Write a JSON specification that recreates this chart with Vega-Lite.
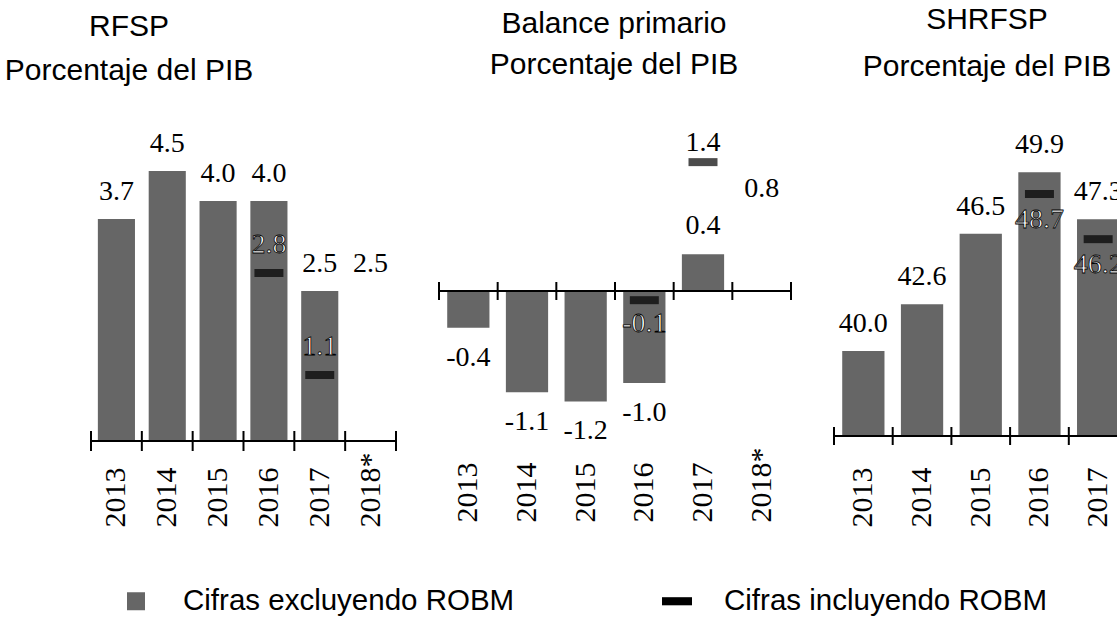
{
  "$schema": "https://vega.github.io/schema/vega-lite/v6.json",
  "background": "white",
  "padding": {"left": 4, "top": 5, "right": 0, "bottom": 0},
  "bounds": "flush",
  "spacing": 43,
  "config": {
    "locale": {"number": {"decimal": ".", "thousands": ",", "grouping": [3], "currency": ["$", ""], "minus": "-"}},
    "view": {"stroke": null},
    "title": {"font": "Liberation Sans", "fontSize": 30, "fontWeight": "normal", "color": "black", "subtitleFont": "Liberation Sans", "subtitleFontSize": 30, "subtitleColor": "black", "subtitlePadding": 14, "anchor": "middle", "frame": "group", "offset": 40},
    "axis": {"labelFont": "Liberation Serif", "labelFontSize": 30, "labelColor": "black", "domain": false, "ticks": false, "tickSize": 0, "grid": false, "labelAngle": 270, "labelAlign": "left", "labelBaseline": "middle", "labelOverlap": false, "labelFlush": false, "title": null},
    "text": {"font": "Liberation Serif", "fontSize": 28, "color": "black", "baseline": "alphabetic"},
    "legend": {"orient": "none", "legendX": 30, "legendY": 457, "direction": "horizontal", "labelFont": "Liberation Sans", "labelFontSize": 29.5, "labelColor": "black", "symbolSize": 900, "labelOffset": 32, "columnPadding": 147, "labelLimit": 600}
  },
  "datasets": {
    "rfsp": [
      {"year": "2013", "excl": 3.7},
      {"year": "2014", "excl": 4.5},
      {"year": "2015", "excl": 4.0},
      {"year": "2016", "excl": 4.0, "incl": 2.8},
      {"year": "2017", "excl": 2.5, "incl": 1.1},
      {"year": "2018*", "excl": 2.5}
    ],
    "bal": [
      {"year": "2013", "excl": -0.4},
      {"year": "2014", "excl": -1.1},
      {"year": "2015", "excl": -1.2},
      {"year": "2016", "excl": -1.0, "incl": -0.1},
      {"year": "2017", "excl": 0.4, "incl": 1.4},
      {"year": "2018*", "excl": 0.8}
    ],
    "shr": [
      {"year": "2013", "excl": 40.0},
      {"year": "2014", "excl": 42.6},
      {"year": "2015", "excl": 46.5},
      {"year": "2016", "excl": 49.9, "incl": 48.7},
      {"year": "2017", "excl": 47.3, "incl": 46.2}
    ]
  },
  "hconcat": [
    {
      "width": 305, "height": 312,
      "data": {"name": "rfsp"},
      "title": {"text": "RFSP", "subtitle": "Porcentaje del PIB", "dx": -114.5, "offset": 43, "subtitlePadding": 14},
      "layer": [
        {
          "transform": [{"filter": "datum.year != '2018*'"}],
          "mark": {"type": "bar", "width": {"band": 0.73}},
          "encoding": {
            "x": {"field": "year", "type": "ordinal", "sort": null, "scale": {"type": "band", "paddingInner": 0, "paddingOuter": 0}, "axis": {"labelPadding": 86}},
            "y": {"field": "excl", "type": "quantitative", "scale": {"domain": [0, 5.2], "nice": false, "zero": false}, "axis": null},
            "color": {"datum": "Cifras excluyendo ROBM", "scale": {"domain": ["Cifras excluyendo ROBM", "Cifras incluyendo ROBM"], "range": ["#666666", "#000000"]}, "legend": {"title": null, "encode": {"symbols": {"update": {"shape": {"signal": "datum.value === 'Cifras incluyendo ROBM' ? 'M-1,-0.27H1V0.27H-1Z' : 'M-0.6,-0.6H0.6V0.6H-0.6Z'"}, "fill": {"signal": "datum.value === 'Cifras incluyendo ROBM' ? '#000000' : '#c4c4c4'"}, "strokeWidth": {"value": 0}, "opacity": {"value": 1}}}}}}
          }
        },
        {
          "mark": {"type": "rule", "strokeWidth": 2, "color": "black"},
          "encoding": {"y": {"datum": 0, "type": "quantitative", "axis": null}}
        },
        {
          "mark": {"type": "rule", "strokeWidth": 2, "color": "black", "yOffset": -10, "y2Offset": 10},
          "encoding": {
            "x": {"field": "year", "type": "ordinal", "sort": null, "bandPosition": 0, "scale": {"type": "band", "paddingInner": 0, "paddingOuter": 0}},
            "y": {"datum": 0, "type": "quantitative", "axis": null},
            "y2": {"datum": 0}
          }
        },
        {
          "transform": [{"filter": "datum.year == '2018*'"}],
          "mark": {"type": "rule", "strokeWidth": 2, "color": "black", "yOffset": -10, "y2Offset": 10},
          "encoding": {
            "x": {"field": "year", "type": "ordinal", "sort": null, "bandPosition": 1, "scale": {"type": "band", "paddingInner": 0, "paddingOuter": 0}},
            "y": {"datum": 0, "type": "quantitative", "axis": null},
            "y2": {"datum": 0}
          }
        },
        {
          "transform": [{"filter": "isValid(datum.incl)"}],
          "mark": {"type": "tick", "thickness": 8, "size": 29},
          "encoding": {
            "x": {"field": "year", "type": "ordinal", "sort": null, "scale": {"type": "band", "paddingInner": 0, "paddingOuter": 0}},
            "y": {"field": "incl", "type": "quantitative", "axis": null},
            "color": {"datum": "Cifras incluyendo ROBM", "scale": {"domain": ["Cifras excluyendo ROBM", "Cifras incluyendo ROBM"], "range": ["#666666", "#000000"]}, "legend": {"title": null, "encode": {"symbols": {"update": {"shape": {"signal": "datum.value === 'Cifras incluyendo ROBM' ? 'M-1,-0.27H1V0.27H-1Z' : 'M-0.6,-0.6H0.6V0.6H-0.6Z'"}, "fill": {"signal": "datum.value === 'Cifras incluyendo ROBM' ? '#000000' : '#c4c4c4'"}, "strokeWidth": {"value": 0}, "opacity": {"value": 1}}}}}}
          }
        },
        {
          "mark": {"type": "text", "dy": -19},
          "encoding": {
            "x": {"field": "year", "type": "ordinal", "sort": null, "scale": {"type": "band", "paddingInner": 0, "paddingOuter": 0}},
            "y": {"field": "excl", "type": "quantitative", "axis": null},
            "text": {"field": "excl", "type": "quantitative", "format": ".1f"}
          }
        },
        {
          "transform": [{"filter": "isValid(datum.incl)"}],
          "mark": {"type": "text", "dy": -20, "fill": "white", "stroke": "black", "strokeWidth": 0.8},
          "encoding": {
            "x": {"field": "year", "type": "ordinal", "sort": null, "scale": {"type": "band", "paddingInner": 0, "paddingOuter": 0}},
            "y": {"field": "incl", "type": "quantitative", "axis": null},
            "text": {"field": "incl", "type": "quantitative", "format": ".1f"}
          }
        }
      ]
    },
    {
      "width": 352, "height": 312,
      "data": {"name": "bal"},
      "title": {"text": "Balance primario", "subtitle": "Porcentaje del PIB", "dx": -1, "offset": 49, "subtitlePadding": 11},
      "layer": [
        {
          "transform": [{"filter": "datum.year != '2018*'"}],
          "mark": {"type": "bar", "width": {"band": 0.72}},
          "encoding": {
            "x": {"field": "year", "type": "ordinal", "sort": null, "scale": {"type": "band", "paddingInner": 0, "paddingOuter": 0}, "axis": {"labelPadding": 81}},
            "y": {"field": "excl", "type": "quantitative", "scale": {"domain": [-1.63, 1.76], "nice": false, "zero": false}, "axis": null},
            "color": {"datum": "Cifras excluyendo ROBM", "scale": {"domain": ["Cifras excluyendo ROBM", "Cifras incluyendo ROBM"], "range": ["#666666", "#000000"]}, "legend": {"title": null, "encode": {"symbols": {"update": {"shape": {"signal": "datum.value === 'Cifras incluyendo ROBM' ? 'M-1,-0.27H1V0.27H-1Z' : 'M-0.6,-0.6H0.6V0.6H-0.6Z'"}, "fill": {"signal": "datum.value === 'Cifras incluyendo ROBM' ? '#000000' : '#c4c4c4'"}, "strokeWidth": {"value": 0}, "opacity": {"value": 1}}}}}}
          }
        },
        {
          "mark": {"type": "rule", "strokeWidth": 2, "color": "black"},
          "encoding": {"y": {"datum": 0, "type": "quantitative", "axis": null}}
        },
        {
          "mark": {"type": "rule", "strokeWidth": 2, "color": "black", "yOffset": -9, "y2Offset": 9},
          "encoding": {
            "x": {"field": "year", "type": "ordinal", "sort": null, "bandPosition": 0, "scale": {"type": "band", "paddingInner": 0, "paddingOuter": 0}},
            "y": {"datum": 0, "type": "quantitative", "axis": null},
            "y2": {"datum": 0}
          }
        },
        {
          "transform": [{"filter": "datum.year == '2018*'"}],
          "mark": {"type": "rule", "strokeWidth": 2, "color": "black", "yOffset": -9, "y2Offset": 9},
          "encoding": {
            "x": {"field": "year", "type": "ordinal", "sort": null, "bandPosition": 1, "scale": {"type": "band", "paddingInner": 0, "paddingOuter": 0}},
            "y": {"datum": 0, "type": "quantitative", "axis": null},
            "y2": {"datum": 0}
          }
        },
        {
          "transform": [{"filter": "isValid(datum.incl)"}],
          "mark": {"type": "tick", "thickness": 8, "size": 29},
          "encoding": {
            "x": {"field": "year", "type": "ordinal", "sort": null, "scale": {"type": "band", "paddingInner": 0, "paddingOuter": 0}},
            "y": {"field": "incl", "type": "quantitative", "axis": null},
            "color": {"datum": "Cifras incluyendo ROBM", "scale": {"domain": ["Cifras excluyendo ROBM", "Cifras incluyendo ROBM"], "range": ["#666666", "#000000"]}, "legend": {"title": null, "encode": {"symbols": {"update": {"shape": {"signal": "datum.value === 'Cifras incluyendo ROBM' ? 'M-1,-0.27H1V0.27H-1Z' : 'M-0.6,-0.6H0.6V0.6H-0.6Z'"}, "fill": {"signal": "datum.value === 'Cifras incluyendo ROBM' ? '#000000' : '#c4c4c4'"}, "strokeWidth": {"value": 0}, "opacity": {"value": 1}}}}}}
          }
        },
        {
          "transform": [{"filter": "datum.excl >= 0"}],
          "mark": {"type": "text", "dy": -20},
          "encoding": {
            "x": {"field": "year", "type": "ordinal", "sort": null, "scale": {"type": "band", "paddingInner": 0, "paddingOuter": 0}},
            "y": {"field": "excl", "type": "quantitative", "axis": null},
            "text": {"field": "excl", "type": "quantitative", "format": ".1f"}
          }
        },
        {
          "transform": [{"filter": "datum.excl < 0"}],
          "mark": {"type": "text", "dy": 38},
          "encoding": {
            "x": {"field": "year", "type": "ordinal", "sort": null, "scale": {"type": "band", "paddingInner": 0, "paddingOuter": 0}},
            "y": {"field": "excl", "type": "quantitative", "axis": null},
            "text": {"field": "excl", "type": "quantitative", "format": ".1f"}
          }
        },
        {
          "transform": [{"filter": "isValid(datum.incl) && datum.incl >= 0"}],
          "mark": {"type": "text", "dy": -11},
          "encoding": {
            "x": {"field": "year", "type": "ordinal", "sort": null, "scale": {"type": "band", "paddingInner": 0, "paddingOuter": 0}},
            "y": {"field": "incl", "type": "quantitative", "axis": null},
            "text": {"field": "incl", "type": "quantitative", "format": ".1f"}
          }
        },
        {
          "transform": [{"filter": "isValid(datum.incl) && datum.incl < 0"}],
          "mark": {"type": "text", "dy": 32, "fill": "white", "stroke": "black", "strokeWidth": 0.8},
          "encoding": {
            "x": {"field": "year", "type": "ordinal", "sort": null, "scale": {"type": "band", "paddingInner": 0, "paddingOuter": 0}},
            "y": {"field": "incl", "type": "quantitative", "axis": null},
            "text": {"field": "incl", "type": "quantitative", "format": ".1f"}
          }
        }
      ]
    },
    {
      "width": 284, "height": 307,
      "data": {"name": "shr"},
      "title": {"text": "SHRFSP", "subtitle": "Porcentaje del PIB", "dx": 11, "offset": 47, "subtitlePadding": 17},
      "layer": [
        {
          "mark": {"type": "bar", "width": {"band": 0.72}, "clip": true},
          "encoding": {
            "x": {"field": "year", "type": "ordinal", "sort": null, "scale": {"type": "band", "paddingInner": 0, "paddingOuter": 0, "range": [0, 293.5]}, "axis": {"labelPadding": 91}},
            "y": {"field": "excl", "type": "quantitative", "scale": {"domain": [35.3, 52.3], "nice": false, "zero": false}, "axis": null},
            "y2": {"datum": 35.3},
            "color": {"datum": "Cifras excluyendo ROBM", "scale": {"domain": ["Cifras excluyendo ROBM", "Cifras incluyendo ROBM"], "range": ["#666666", "#000000"]}, "legend": {"title": null, "encode": {"symbols": {"update": {"shape": {"signal": "datum.value === 'Cifras incluyendo ROBM' ? 'M-1,-0.27H1V0.27H-1Z' : 'M-0.6,-0.6H0.6V0.6H-0.6Z'"}, "fill": {"signal": "datum.value === 'Cifras incluyendo ROBM' ? '#000000' : '#c4c4c4'"}, "strokeWidth": {"value": 0}, "opacity": {"value": 1}}}}}}
          }
        },
        {
          "mark": {"type": "rule", "strokeWidth": 2, "color": "black"},
          "encoding": {"y": {"datum": 35.3, "type": "quantitative", "axis": null}}
        },
        {
          "mark": {"type": "rule", "strokeWidth": 2, "color": "black", "yOffset": -9, "y2Offset": 9},
          "encoding": {
            "x": {"field": "year", "type": "ordinal", "sort": null, "bandPosition": 0, "scale": {"type": "band", "paddingInner": 0, "paddingOuter": 0, "range": [0, 293.5]}},
            "y": {"datum": 35.3, "type": "quantitative", "axis": null},
            "y2": {"datum": 35.3}
          }
        },
        {
          "transform": [{"filter": "isValid(datum.incl)"}],
          "mark": {"type": "tick", "thickness": 8, "size": 29, "clip": true},
          "encoding": {
            "x": {"field": "year", "type": "ordinal", "sort": null, "scale": {"type": "band", "paddingInner": 0, "paddingOuter": 0, "range": [0, 293.5]}},
            "y": {"field": "incl", "type": "quantitative", "axis": null},
            "color": {"datum": "Cifras incluyendo ROBM", "scale": {"domain": ["Cifras excluyendo ROBM", "Cifras incluyendo ROBM"], "range": ["#666666", "#000000"]}, "legend": {"title": null, "encode": {"symbols": {"update": {"shape": {"signal": "datum.value === 'Cifras incluyendo ROBM' ? 'M-1,-0.27H1V0.27H-1Z' : 'M-0.6,-0.6H0.6V0.6H-0.6Z'"}, "fill": {"signal": "datum.value === 'Cifras incluyendo ROBM' ? '#000000' : '#c4c4c4'"}, "strokeWidth": {"value": 0}, "opacity": {"value": 1}}}}}}
          }
        },
        {
          "mark": {"type": "text", "dy": -19, "clip": true},
          "encoding": {
            "x": {"field": "year", "type": "ordinal", "sort": null, "scale": {"type": "band", "paddingInner": 0, "paddingOuter": 0, "range": [0, 293.5]}},
            "y": {"field": "excl", "type": "quantitative", "axis": null},
            "text": {"field": "excl", "type": "quantitative", "format": ".1f"}
          }
        },
        {
          "transform": [{"filter": "isValid(datum.incl)"}],
          "mark": {"type": "text", "dy": 34, "fill": "white", "stroke": "black", "strokeWidth": 0.8, "clip": true},
          "encoding": {
            "x": {"field": "year", "type": "ordinal", "sort": null, "scale": {"type": "band", "paddingInner": 0, "paddingOuter": 0, "range": [0, 293.5]}},
            "y": {"field": "incl", "type": "quantitative", "axis": null},
            "text": {"field": "incl", "type": "quantitative", "format": ".1f"}
          }
        }
      ]
    }
  ]
}
